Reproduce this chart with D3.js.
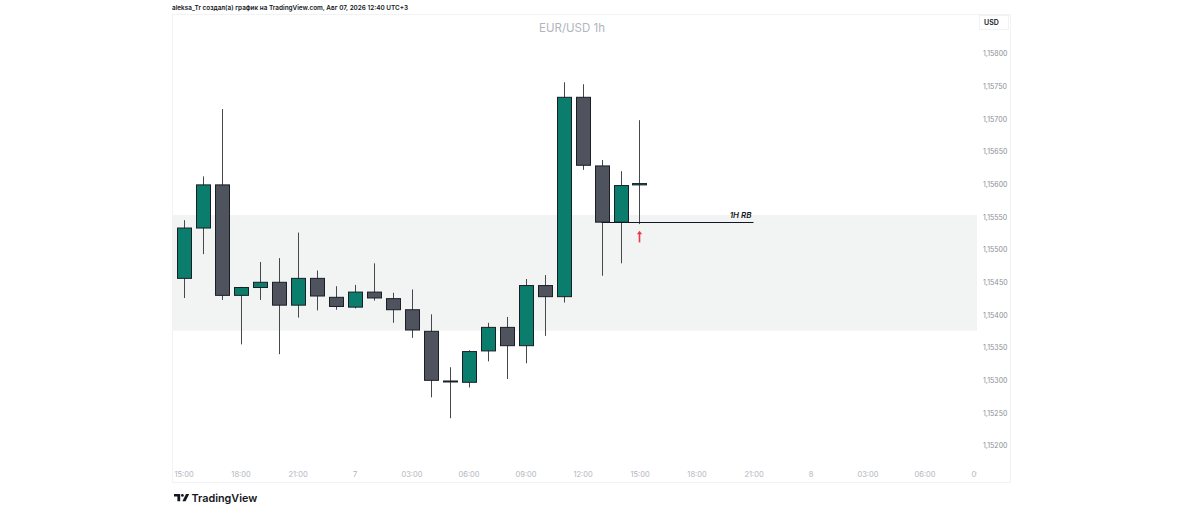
<!DOCTYPE html>
<html>
<head>
<meta charset="utf-8">
<script src="https://cdn.jsdelivr.net/npm/d3@7"></script>
<style>
  html, body { margin: 0; padding: 0; background: #fff; }
  svg { display: block; font-family: Inter, "Noto Sans", "Liberation Sans", sans-serif; }
</style>
</head>
<body>
<svg id="chart" width="1184" height="513"></svg>
<script>
// hourly candles, EUR/USD 1h (UTC+3 chart time)
const times = [
  '2026-08-06T15:00', '2026-08-06T16:00', '2026-08-06T17:00', '2026-08-06T18:00', '2026-08-06T19:00',
  '2026-08-06T20:00', '2026-08-06T21:00', '2026-08-06T22:00', '2026-08-06T23:00', '2026-08-07T00:00',
  '2026-08-07T01:00', '2026-08-07T02:00', '2026-08-07T03:00', '2026-08-07T04:00', '2026-08-07T05:00',
  '2026-08-07T06:00', '2026-08-07T07:00', '2026-08-07T08:00', '2026-08-07T09:00', '2026-08-07T10:00',
  '2026-08-07T11:00', '2026-08-07T12:00', '2026-08-07T13:00', '2026-08-07T14:00', '2026-08-07T15:00'
];
const opens  = [1.15456, 1.15533, 1.15599, 1.15430, 1.15442, 1.15450, 1.15415, 1.15456, 1.15427, 1.15412,
                1.15435, 1.15425, 1.15408, 1.15375, 1.15299, 1.15297, 1.15345, 1.15381, 1.15353, 1.15445,
                1.15428, 1.15733, 1.15628, 1.15542, 1.15599];
const highs  = [1.15545, 1.15612, 1.15715, 1.15443, 1.15481, 1.15487, 1.15526, 1.15468, 1.15444, 1.15446,
                1.15479, 1.15434, 1.15439, 1.15401, 1.15320, 1.15346, 1.15388, 1.15397, 1.15455, 1.15461,
                1.15756, 1.15753, 1.15637, 1.15620, 1.15698];
const lows   = [1.15426, 1.15493, 1.15423, 1.15355, 1.15423, 1.15340, 1.15396, 1.15407, 1.15408, 1.15410,
                1.15422, 1.15388, 1.15365, 1.15274, 1.15242, 1.15289, 1.15329, 1.15302, 1.15326, 1.15368,
                1.15419, 1.15622, 1.15460, 1.15479, 1.15539];
const closes = [1.15533, 1.15599, 1.15430, 1.15442, 1.15450, 1.15415, 1.15456, 1.15429, 1.15413, 1.15435,
                1.15426, 1.15408, 1.15377, 1.15300, 1.15298, 1.15344, 1.15381, 1.15353, 1.15445, 1.15428,
                1.15733, 1.15629, 1.15542, 1.15598, 1.15601];

const priceTicks = [1.152, 1.1525, 1.153, 1.1535, 1.154, 1.1545, 1.155, 1.1555, 1.156, 1.1565, 1.157, 1.1575, 1.158];
const timeDomain = ['2026-08-06T15:00', '2026-08-08T09:00'];

// annotations
const zonePrices = [1.15553, 1.15376];
const rbTimes = ['2026-08-07T13:00', '2026-08-07T21:00'];
const rbPrice = 1.15542;
const arrowTime = '2026-08-07T15:00';
const arrowPrices = [1.15511, 1.15529];

const GREEN = '#0b7d6d', DARK = '#4f535d', EDGE = '#1b1e26', WICK = '#45484f';
const parse = d3.utcParse('%Y-%m-%dT%H:%M');
const candles = times.map((t, i) => ({
  t: parse(t), o: opens[i], h: highs[i], l: lows[i], c: closes[i]
}));

const P = { left: 172, top: 14, right: 1010, bottom: 482, plotRight: 977 };

const svg = d3.select('#chart');

svg.append('text')
  .attr('x', 172).attr('y', 10)
  .attr('fill', '#131722')
  .style('font-size', '6.4px').style('font-weight', 600)
  .text('aleksa_Tr создал(а) график на TradingView.com, Авг 07, 2026 12:40 UTC+3');

svg.append('rect')
  .attr('x', P.left + 0.5).attr('y', P.top + 0.5)
  .attr('width', P.right - P.left).attr('height', P.bottom - P.top)
  .attr('fill', '#fff').attr('stroke', '#f0f2f5');

const x = d3.scaleUtc().domain(timeDomain.map(parse)).range([183.5, 981.5]);
const y = d3.scaleLinear().domain([1.152, 1.158]).range([445.7, 53.5]);

svg.append('defs').append('clipPath').attr('id', 'plot')
  .append('rect').attr('x', P.left + 1).attr('y', P.top + 1)
  .attr('width', P.plotRight - P.left - 1).attr('height', P.bottom - P.top - 1);

const plot = svg.append('g').attr('clip-path', 'url(#plot)');

// zone
plot.append('rect')
  .attr('x', P.left + 1).attr('width', P.plotRight - P.left - 1)
  .attr('y', y(zonePrices[0])).attr('height', y(zonePrices[1]) - y(zonePrices[0]))
  .attr('fill', '#f2f3f3');

// title
svg.append('text')
  .attr('x', 572).attr('y', 32).attr('text-anchor', 'middle')
  .attr('fill', '#b2b5be').style('font-size', '11.5px')
  .text('EUR/USD 1h');

// candles
const cg = plot.append('g');
const bw = 14;
candles.forEach(d => {
  const cx = Math.round(x(d.t)) + 0.5;
  cg.append('line')
    .attr('x1', cx).attr('x2', cx)
    .attr('y1', y(d.h)).attr('y2', y(d.l))
    .attr('stroke', WICK).attr('stroke-width', 1);
  const top = y(Math.max(d.o, d.c)), bot = y(Math.min(d.o, d.c));
  cg.append('rect')
    .attr('x', cx - bw / 2).attr('y', top)
    .attr('width', bw).attr('height', Math.max(bot - top, 1))
    .attr('fill', d.c >= d.o ? GREEN : DARK)
    .attr('stroke', EDGE).attr('stroke-width', 1);
});

// 1H RB line
const rb = rbTimes.map(parse);
plot.append('line')
  .attr('x1', x(rb[0])).attr('x2', x(rb[1]))
  .attr('y1', Math.round(y(rbPrice)) + 0.5).attr('y2', Math.round(y(rbPrice)) + 0.5)
  .attr('stroke', '#131722').attr('stroke-width', 1);
plot.append('text')
  .attr('x', x(rb[1]) - 2).attr('y', y(rbPrice) - 4)
  .attr('text-anchor', 'end')
  .attr('fill', '#131722')
  .style('font-size', '8px').style('font-style', 'italic').style('font-weight', 600)
  .text('1H RB');

// red arrow
const ax = Math.round(x(parse(arrowTime))) + 0.5;
const ay0 = y(arrowPrices[0]), ay1 = y(arrowPrices[1]);
plot.append('line')
  .attr('x1', ax).attr('x2', ax).attr('y1', ay0).attr('y2', ay1 + 3)
  .attr('stroke', '#f23645').attr('stroke-width', 1.6);
plot.append('path')
  .attr('d', `M${ax - 2.6},${ay1 + 3.5} L${ax},${ay1} L${ax + 2.6},${ay1 + 3.5} Z`)
  .attr('fill', '#f23645');

// time axis
const fmtTime = d => d.getUTCHours() === 0 ? String(d.getUTCDate()) : d3.utcFormat('%H:%M')(d);
const xa = plot.append('g')
  .attr('transform', 'translate(0,474)')
  .call(d3.axisBottom(x).ticks(d3.utcHour.every(3)).tickSize(0).tickFormat(fmtTime));
xa.select('.domain').remove();
xa.selectAll('text')
  .attr('fill', '#b2b5be').attr('dy', 0)
  .style('font-size', '7.5px').style('font-family', 'Inter, "Noto Sans", sans-serif');

// price axis
const ya = svg.append('g')
  .attr('transform', 'translate(980,0)')
  .call(d3.axisRight(y).tickValues(priceTicks).tickSize(0)
    .tickFormat(v => v.toFixed(5).replace('.', ',')));
ya.select('.domain').remove();
ya.selectAll('text')
  .attr('x', 3).attr('fill', '#8a8d96')
  .style('font-size', '7px').style('font-family', 'Inter, "Noto Sans", sans-serif');

// currency label
svg.append('rect')
  .attr('x', 979.5).attr('y', 15.5).attr('width', 29).attr('height', 14)
  .attr('fill', '#fff').attr('stroke', '#f0f2f5');
svg.append('text')
  .attr('x', 984).attr('y', 25)
  .attr('fill', '#131722').style('font-size', '7px').style('font-weight', 600)
  .text('USD');

// logo
const logo = svg.append('g').attr('transform', 'translate(174,494)');
logo.append('path').attr('d', 'M0,0 H6.2 V7.2 H3.4 V2.6 H0 Z').attr('fill', '#131722');
logo.append('circle').attr('cx', 8.4).attr('cy', 1.4).attr('r', 1.4).attr('fill', '#131722');
logo.append('path').attr('d', 'M12,0 H15.2 L11.6,7.2 H8.4 Z').attr('fill', '#131722');
svg.append('text')
  .attr('x', 191.5).attr('y', 501.5)
  .attr('fill', '#131722').style('font-size', '10.8px').style('font-weight', 600)
  .text('TradingView');
</script>
</body>
</html>
